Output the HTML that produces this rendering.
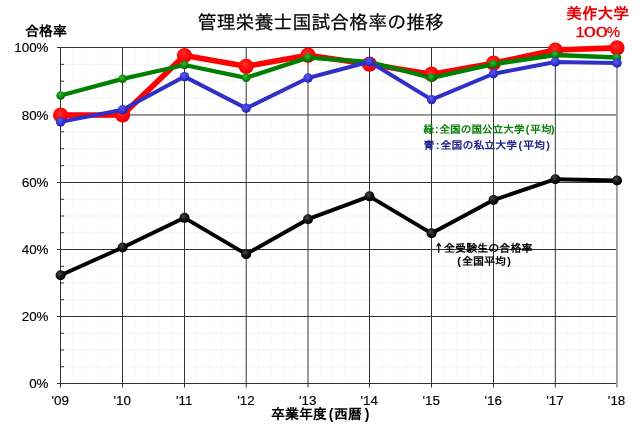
<!DOCTYPE html>
<html lang="ja"><head><meta charset="utf-8"><title>管理栄養士国試合格率の推移</title>
<style>html,body{margin:0;padding:0;background:#fff}body{width:640px;height:426px;position:relative;overflow:hidden;font-family:"Liberation Sans","Noto Sans CJK JP",sans-serif}</style>
</head><body>
<svg width="640" height="426" viewBox="0 0 640 426" style="position:absolute;left:0;top:0">
<defs>
<radialGradient id="gr" cx="42%" cy="38%" r="62%"><stop offset="0" stop-color="#ff3030"/><stop offset="0.55" stop-color="#ff0808"/><stop offset="0.85" stop-color="#f40000"/><stop offset="1" stop-color="#d80000"/></radialGradient>
<radialGradient id="gg" cx="42%" cy="36%" r="64%"><stop offset="0" stop-color="#38b838"/><stop offset="0.5" stop-color="#129412"/><stop offset="0.85" stop-color="#007800"/><stop offset="1" stop-color="#005c00"/></radialGradient>
<radialGradient id="gb" cx="42%" cy="36%" r="64%"><stop offset="0" stop-color="#5c5cf0"/><stop offset="0.5" stop-color="#3c3cd8"/><stop offset="0.85" stop-color="#2828c0"/><stop offset="1" stop-color="#1818a0"/></radialGradient>
<radialGradient id="gk" cx="40%" cy="34%" r="64%"><stop offset="0" stop-color="#4a4a4a"/><stop offset="0.5" stop-color="#161616"/><stop offset="1" stop-color="#000"/></radialGradient>
</defs>
<rect width="640" height="426" fill="#fff"/>
<g stroke="#fafaf8" stroke-width="1"><line x1="72.90" x2="72.90" y1="47.5" y2="383.5"/><line x1="85.30" x2="85.30" y1="47.5" y2="383.5"/><line x1="97.70" x2="97.70" y1="47.5" y2="383.5"/><line x1="110.10" x2="110.10" y1="47.5" y2="383.5"/><line x1="134.90" x2="134.90" y1="47.5" y2="383.5"/><line x1="147.30" x2="147.30" y1="47.5" y2="383.5"/><line x1="159.70" x2="159.70" y1="47.5" y2="383.5"/><line x1="172.10" x2="172.10" y1="47.5" y2="383.5"/><line x1="196.84" x2="196.84" y1="47.5" y2="383.5"/><line x1="209.18" x2="209.18" y1="47.5" y2="383.5"/><line x1="221.52" x2="221.52" y1="47.5" y2="383.5"/><line x1="233.86" x2="233.86" y1="47.5" y2="383.5"/><line x1="258.56" x2="258.56" y1="47.5" y2="383.5"/><line x1="270.92" x2="270.92" y1="47.5" y2="383.5"/><line x1="283.28" x2="283.28" y1="47.5" y2="383.5"/><line x1="295.64" x2="295.64" y1="47.5" y2="383.5"/><line x1="320.30" x2="320.30" y1="47.5" y2="383.5"/><line x1="332.60" x2="332.60" y1="47.5" y2="383.5"/><line x1="344.90" x2="344.90" y1="47.5" y2="383.5"/><line x1="357.20" x2="357.20" y1="47.5" y2="383.5"/><line x1="381.90" x2="381.90" y1="47.5" y2="383.5"/><line x1="394.30" x2="394.30" y1="47.5" y2="383.5"/><line x1="406.70" x2="406.70" y1="47.5" y2="383.5"/><line x1="419.10" x2="419.10" y1="47.5" y2="383.5"/><line x1="443.90" x2="443.90" y1="47.5" y2="383.5"/><line x1="456.30" x2="456.30" y1="47.5" y2="383.5"/><line x1="468.70" x2="468.70" y1="47.5" y2="383.5"/><line x1="481.10" x2="481.10" y1="47.5" y2="383.5"/><line x1="505.86" x2="505.86" y1="47.5" y2="383.5"/><line x1="518.22" x2="518.22" y1="47.5" y2="383.5"/><line x1="530.58" x2="530.58" y1="47.5" y2="383.5"/><line x1="542.94" x2="542.94" y1="47.5" y2="383.5"/><line x1="567.62" x2="567.62" y1="47.5" y2="383.5"/><line x1="579.94" x2="579.94" y1="47.5" y2="383.5"/><line x1="592.26" x2="592.26" y1="47.5" y2="383.5"/><line x1="604.58" x2="604.58" y1="47.5" y2="383.5"/></g>
<g stroke="#f4f4f1" stroke-width="1"><line x1="60.5" x2="616.90" y1="64.36" y2="64.36"/><line x1="60.5" x2="616.90" y1="81.22" y2="81.22"/><line x1="60.5" x2="616.90" y1="98.09" y2="98.09"/><line x1="60.5" x2="616.90" y1="131.84" y2="131.84"/><line x1="60.5" x2="616.90" y1="148.72" y2="148.72"/><line x1="60.5" x2="616.90" y1="165.61" y2="165.61"/><line x1="60.5" x2="616.90" y1="199.25" y2="199.25"/><line x1="60.5" x2="616.90" y1="216.00" y2="216.00"/><line x1="60.5" x2="616.90" y1="232.75" y2="232.75"/><line x1="60.5" x2="616.90" y1="266.25" y2="266.25"/><line x1="60.5" x2="616.90" y1="283.00" y2="283.00"/><line x1="60.5" x2="616.90" y1="299.75" y2="299.75"/><line x1="60.5" x2="616.90" y1="333.25" y2="333.25"/><line x1="60.5" x2="616.90" y1="350.00" y2="350.00"/><line x1="60.5" x2="616.90" y1="366.75" y2="366.75"/></g>
<g stroke="#323232" stroke-width="1"><line x1="57.0" x2="616.90" y1="47.50" y2="47.50"/><line x1="57.0" x2="616.90" y1="114.95" y2="114.95"/><line x1="57.0" x2="616.90" y1="182.50" y2="182.50"/><line x1="57.0" x2="616.90" y1="249.50" y2="249.50"/><line x1="57.0" x2="616.90" y1="316.50" y2="316.50"/><line x1="57.0" x2="616.90" y1="383.50" y2="383.50"/><line x1="60.50" x2="60.50" y1="47.5" y2="387.5"/><line x1="122.50" x2="122.50" y1="47.5" y2="387.5"/><line x1="184.50" x2="184.50" y1="47.5" y2="387.5"/><line x1="246.20" x2="246.20" y1="47.5" y2="387.5"/><line x1="308.00" x2="308.00" y1="47.5" y2="387.5"/><line x1="369.50" x2="369.50" y1="47.5" y2="387.5"/><line x1="431.50" x2="431.50" y1="47.5" y2="387.5"/><line x1="493.50" x2="493.50" y1="47.5" y2="387.5"/><line x1="555.30" x2="555.30" y1="47.5" y2="387.5"/></g>
<line x1="616.90" x2="616.90" y1="47.5" y2="387.5" stroke="#9a9a9a" stroke-width="1.8"/>
<g stroke="#323232" stroke-width="1"><line x1="60.5" x2="64.0" y1="64.36" y2="64.36"/><line x1="60.5" x2="64.0" y1="81.22" y2="81.22"/><line x1="60.5" x2="64.0" y1="98.09" y2="98.09"/><line x1="60.5" x2="64.0" y1="131.84" y2="131.84"/><line x1="60.5" x2="64.0" y1="148.72" y2="148.72"/><line x1="60.5" x2="64.0" y1="165.61" y2="165.61"/><line x1="60.5" x2="64.0" y1="199.25" y2="199.25"/><line x1="60.5" x2="64.0" y1="216.00" y2="216.00"/><line x1="60.5" x2="64.0" y1="232.75" y2="232.75"/><line x1="60.5" x2="64.0" y1="266.25" y2="266.25"/><line x1="60.5" x2="64.0" y1="283.00" y2="283.00"/><line x1="60.5" x2="64.0" y1="299.75" y2="299.75"/><line x1="60.5" x2="64.0" y1="333.25" y2="333.25"/><line x1="60.5" x2="64.0" y1="350.00" y2="350.00"/><line x1="60.5" x2="64.0" y1="366.75" y2="366.75"/></g>
<polyline points="60.60,275.31 122.60,247.42 184.50,217.85 246.15,254.14 308.05,219.20 369.50,196.35 431.55,233.31 493.50,200.04 555.35,179.21 617.00,180.56" fill="none" stroke="#000" stroke-width="3.9" stroke-linejoin="round" stroke-linecap="round"/>
<circle cx="60.60" cy="275.31" r="5" fill="url(#gk)"/><circle cx="122.60" cy="247.42" r="5" fill="url(#gk)"/><circle cx="184.50" cy="217.85" r="5" fill="url(#gk)"/><circle cx="246.15" cy="254.14" r="5" fill="url(#gk)"/><circle cx="308.05" cy="219.20" r="5" fill="url(#gk)"/><circle cx="369.50" cy="196.35" r="5" fill="url(#gk)"/><circle cx="431.55" cy="233.31" r="5" fill="url(#gk)"/><circle cx="493.50" cy="200.04" r="5" fill="url(#gk)"/><circle cx="555.35" cy="179.21" r="5" fill="url(#gk)"/><circle cx="617.00" cy="180.56" r="5" fill="url(#gk)"/>
<polyline points="60.60,115.20 122.60,114.90 184.50,55.50 246.15,66.30 308.05,55.20 369.50,64.20 431.55,74.20 493.50,63.20 555.35,50.00 617.00,47.80" fill="none" stroke="#ff0000" stroke-width="5.7" stroke-linejoin="round" stroke-linecap="round"/>
<circle cx="60.60" cy="115.20" r="7.6" fill="url(#gr)"/><circle cx="122.60" cy="114.90" r="7.6" fill="url(#gr)"/><circle cx="184.50" cy="55.50" r="7.6" fill="url(#gr)"/><circle cx="246.15" cy="66.30" r="7.6" fill="url(#gr)"/><circle cx="308.05" cy="55.20" r="7.6" fill="url(#gr)"/><circle cx="369.50" cy="64.20" r="7.6" fill="url(#gr)"/><circle cx="431.55" cy="74.20" r="7.6" fill="url(#gr)"/><circle cx="493.50" cy="63.20" r="7.6" fill="url(#gr)"/><circle cx="555.35" cy="50.00" r="7.6" fill="url(#gr)"/><circle cx="617.00" cy="47.80" r="7.6" fill="url(#gr)"/>
<polyline points="60.60,95.50 122.60,78.80 184.50,65.00 246.15,77.80 308.05,57.60 369.50,62.00 431.55,77.80 493.50,64.20 555.35,55.00 617.00,57.50" fill="none" stroke="#008000" stroke-width="4.3" stroke-linejoin="round" stroke-linecap="round"/>
<circle cx="60.60" cy="95.50" r="4.3" fill="url(#gg)"/><circle cx="122.60" cy="78.80" r="4.3" fill="url(#gg)"/><circle cx="184.50" cy="65.00" r="4.3" fill="url(#gg)"/><circle cx="246.15" cy="77.80" r="4.3" fill="url(#gg)"/><circle cx="308.05" cy="57.60" r="4.3" fill="url(#gg)"/><circle cx="369.50" cy="62.00" r="4.3" fill="url(#gg)"/><circle cx="431.55" cy="77.80" r="4.3" fill="url(#gg)"/><circle cx="493.50" cy="64.20" r="4.3" fill="url(#gg)"/><circle cx="555.35" cy="55.00" r="4.3" fill="url(#gg)"/><circle cx="617.00" cy="57.50" r="4.3" fill="url(#gg)"/>
<polyline points="60.60,121.90 122.60,109.70 184.50,76.60 246.15,108.30 308.05,78.00 369.50,61.80 431.55,99.60 493.50,73.75 555.35,62.00 617.00,63.00" fill="none" stroke="#3030c8" stroke-width="4.0" stroke-linejoin="round" stroke-linecap="round"/>
<circle cx="60.60" cy="121.90" r="4.7" fill="url(#gb)"/><circle cx="122.60" cy="109.70" r="4.7" fill="url(#gb)"/><circle cx="184.50" cy="76.60" r="4.7" fill="url(#gb)"/><circle cx="246.15" cy="108.30" r="4.7" fill="url(#gb)"/><circle cx="308.05" cy="78.00" r="4.7" fill="url(#gb)"/><circle cx="369.50" cy="61.80" r="4.7" fill="url(#gb)"/><circle cx="431.55" cy="99.60" r="4.7" fill="url(#gb)"/><circle cx="493.50" cy="73.75" r="4.7" fill="url(#gb)"/><circle cx="555.35" cy="62.00" r="4.7" fill="url(#gb)"/><circle cx="617.00" cy="63.00" r="4.7" fill="url(#gb)"/>
<text x="197.72 216.67 235.62 254.57 273.52 292.47 311.42 330.37 349.32 368.27 387.22 406.17 425.12" y="28.6" font-size="18.9" fill="#000" font-family="Liberation Sans, IPAGothic, Noto Sans CJK JP, sans-serif" stroke="#000" stroke-width="0.22">管理栄養士国試合格率の推移</text>
<text x="25.20 39.10 53.00" y="36.0" font-size="13.9" font-weight="bold" fill="#000" font-family="Liberation Sans, IPAGothic, Noto Sans CJK JP, sans-serif">合格率</text>
<text x="48.5" y="52.10" font-size="13.4" text-anchor="end" stroke="#000" stroke-width="0.15" font-family="Liberation Sans, IPAGothic, Noto Sans CJK JP, sans-serif">100%</text>
<text x="48.5" y="119.55" font-size="13.4" text-anchor="end" stroke="#000" stroke-width="0.15" font-family="Liberation Sans, IPAGothic, Noto Sans CJK JP, sans-serif">80%</text>
<text x="48.5" y="187.10" font-size="13.4" text-anchor="end" stroke="#000" stroke-width="0.15" font-family="Liberation Sans, IPAGothic, Noto Sans CJK JP, sans-serif">60%</text>
<text x="48.5" y="254.10" font-size="13.4" text-anchor="end" stroke="#000" stroke-width="0.15" font-family="Liberation Sans, IPAGothic, Noto Sans CJK JP, sans-serif">40%</text>
<text x="48.5" y="321.10" font-size="13.4" text-anchor="end" stroke="#000" stroke-width="0.15" font-family="Liberation Sans, IPAGothic, Noto Sans CJK JP, sans-serif">20%</text>
<text x="48.5" y="388.10" font-size="13.4" text-anchor="end" stroke="#000" stroke-width="0.15" font-family="Liberation Sans, IPAGothic, Noto Sans CJK JP, sans-serif">0%</text>
<text x="60.20" y="404.5" font-size="13.4" text-anchor="middle" stroke="#000" stroke-width="0.15" font-family="Liberation Sans, IPAGothic, Noto Sans CJK JP, sans-serif">'09</text>
<text x="122.20" y="404.5" font-size="13.4" text-anchor="middle" stroke="#000" stroke-width="0.15" font-family="Liberation Sans, IPAGothic, Noto Sans CJK JP, sans-serif">'10</text>
<text x="184.20" y="404.5" font-size="13.4" text-anchor="middle" stroke="#000" stroke-width="0.15" font-family="Liberation Sans, IPAGothic, Noto Sans CJK JP, sans-serif">'11</text>
<text x="245.90" y="404.5" font-size="13.4" text-anchor="middle" stroke="#000" stroke-width="0.15" font-family="Liberation Sans, IPAGothic, Noto Sans CJK JP, sans-serif">'12</text>
<text x="307.70" y="404.5" font-size="13.4" text-anchor="middle" stroke="#000" stroke-width="0.15" font-family="Liberation Sans, IPAGothic, Noto Sans CJK JP, sans-serif">'13</text>
<text x="369.20" y="404.5" font-size="13.4" text-anchor="middle" stroke="#000" stroke-width="0.15" font-family="Liberation Sans, IPAGothic, Noto Sans CJK JP, sans-serif">'14</text>
<text x="431.20" y="404.5" font-size="13.4" text-anchor="middle" stroke="#000" stroke-width="0.15" font-family="Liberation Sans, IPAGothic, Noto Sans CJK JP, sans-serif">'15</text>
<text x="493.20" y="404.5" font-size="13.4" text-anchor="middle" stroke="#000" stroke-width="0.15" font-family="Liberation Sans, IPAGothic, Noto Sans CJK JP, sans-serif">'16</text>
<text x="555.00" y="404.5" font-size="13.4" text-anchor="middle" stroke="#000" stroke-width="0.15" font-family="Liberation Sans, IPAGothic, Noto Sans CJK JP, sans-serif">'17</text>
<text x="616.60" y="404.5" font-size="13.4" text-anchor="middle" stroke="#000" stroke-width="0.15" font-family="Liberation Sans, IPAGothic, Noto Sans CJK JP, sans-serif">'18</text>
<text x="271.00 285.00 299.00 313.00 328.77 334.00 348.00 364.77" y="419.0" font-size="14.0" font-weight="bold" fill="#000" font-family="Liberation Sans, IPAGothic, Noto Sans CJK JP, sans-serif">卒業年度(西暦)</text>
<text x="433.27 444.03 455.09 466.15 477.21 488.27 499.33 510.39 521.45" y="251.5" font-size="11.0" font-weight="bold" fill="#000" font-family="Liberation Sans, IPAGothic, Noto Sans CJK JP, sans-serif"><tspan font-family="IPAGothic, DejaVu Sans, sans-serif">↑</tspan>全受験生の合格率</text>
<text x="457.17 462.00 473.00 484.00 495.00 507.17" y="264.8" font-size="11.0" font-weight="bold" fill="#000" font-family="Liberation Sans, IPAGothic, Noto Sans CJK JP, sans-serif">(全国平均)</text>
<text x="423.20 434.88 439.45 450.10 460.75 471.40 482.05 492.70 503.35 514.00 525.68 530.25 540.90 550.98" y="133.0" font-size="10.65" font-weight="bold" fill="#0a800a" font-family="Liberation Sans, IPAGothic, Noto Sans CJK JP, sans-serif">緑:全国の国公立大学(平均)</text>
<text x="423.62 435.74 440.57 451.52 462.47 473.42 484.37 495.32 506.27 518.39 523.22 534.17 546.29" y="148.6" font-size="10.9" font-weight="bold" fill="#24248c" font-family="Liberation Sans, IPAGothic, Noto Sans CJK JP, sans-serif">青:全国の私立大学(平均)</text>
<text x="566.20 581.90 597.60 613.30" y="18.9" font-size="15.7" font-weight="bold" fill="#e60000" font-family="Liberation Sans, IPAGothic, Noto Sans CJK JP, sans-serif">美作大学</text>
<text y="37.4" font-size="14.6" fill="#e60000" stroke="#e60000" stroke-width="0.28" font-family="Liberation Sans, IPAGothic, Noto Sans CJK JP, sans-serif"><tspan x="575.4" textLength="9.1" lengthAdjust="spacingAndGlyphs">1</tspan><tspan x="583.7" textLength="24.2" lengthAdjust="spacingAndGlyphs">00</tspan><tspan x="606.7" textLength="13.3" lengthAdjust="spacingAndGlyphs">%</tspan></text>
</svg>
</body></html>
